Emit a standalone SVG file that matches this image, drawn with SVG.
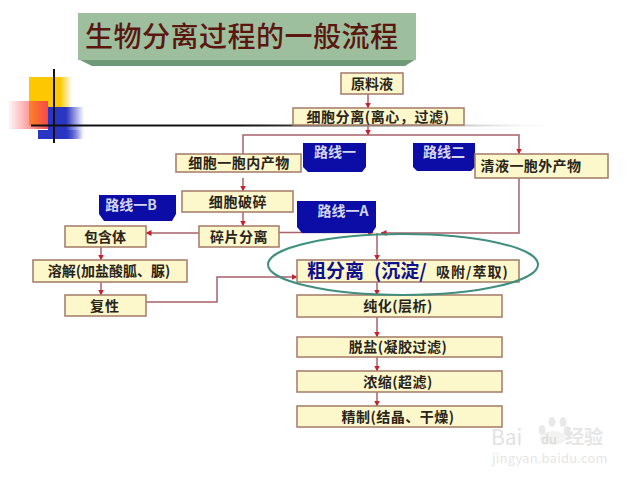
<svg xmlns="http://www.w3.org/2000/svg" width="640" height="480" viewBox="0 0 640 480">
<style>
text{font-family:"Noto Sans CJK SC","Noto Sans",sans-serif;}
.b{fill:#fcf8cc;stroke:#a9816f;stroke-width:1.6;}
.t{font-size:14px;font-weight:700;fill:#2a2418;text-anchor:middle;}
.r{font-size:14px;font-weight:700;fill:#d4d6ee;text-anchor:middle;}
.u{fill:#0c0ca6;}
.c{fill:none;stroke:#a8606a;stroke-width:1.5;}
.w{fill:#e9e9e9;}
</style>
<defs>
<marker id="a" markerWidth="7" markerHeight="7" refX="5.5" refY="3" orient="auto" markerUnits="userSpaceOnUse"><path d="M0 0L6 3L0 6Z" fill="#c8202c"/></marker>
<linearGradient id="fy" x1="0" x2="1" y1="0" y2="0"><stop offset=".72" stop-color="#fdc800"/><stop offset="1" stop-color="#fdc800" stop-opacity="0"/></linearGradient>
<linearGradient id="fb" x1="0" x2="1" y1="0" y2="0"><stop offset=".5" stop-color="#2a35c4"/><stop offset="1" stop-color="#2a35c4" stop-opacity="0"/></linearGradient>
<linearGradient id="fr" x1="1" x2="0" y1="0" y2="0"><stop offset="0" stop-color="#f84848"/><stop offset="1" stop-color="#f84848" stop-opacity=".05"/></linearGradient>
<linearGradient id="fl" x1="0" x2="1" y1="0" y2="0"><stop offset=".4" stop-color="#111"/><stop offset=".7" stop-color="#777"/><stop offset="1" stop-color="#ddd" stop-opacity="0"/></linearGradient>
</defs>

<g id="title">
<path d="M78 59L92 66H405L416 59Z" fill="#6f9a78"/>
<rect x="78" y="13" width="338" height="47" fill="#9dbf9e"/>
<text x="85" y="47" font-size="28" font-weight="500" letter-spacing=".5" fill="#5c1610">生物分离过程的一般流程</text>
</g>

<g id="decor">
<rect x="29" y="77" width="43" height="48" fill="url(#fy)"/>
<rect x="38" y="130" width="44" height="9" fill="url(#fb)"/>
<rect x="48" y="107" width="36" height="32" fill="url(#fb)"/>
<rect x="9" y="101" width="39" height="28" fill="url(#fr)"/>
<rect x="53" y="69" width="2" height="74" fill="#111"/>
<rect x="31" y="124.500" width="520" height="2" fill="url(#fl)"/>
</g>

<g id="connectors">
<path class="c" d="M368 94V108" marker-end="url(#a)"/>
<path class="c" d="M368 125V135" marker-end="url(#a)"/>
<path class="c" d="M243 154V135H519V154" marker-end="url(#a)"/>
<path class="c" d="M243 178V191" marker-end="url(#a)"/>
<path class="c" d="M243 212V226" marker-end="url(#a)"/>
<path class="c" d="M199 233H146" marker-end="url(#a)"/>
<path class="c" d="M101 247V260" marker-end="url(#a)"/>
<path class="c" d="M101 282V295" marker-end="url(#a)"/>
<path class="c" d="M279 232.500H373" marker-end="url(#a)"/>
<path class="c" d="M519 178V233H381" marker-end="url(#a)"/>
<path class="c" d="M377 233V260" marker-end="url(#a)"/>
<path class="c" d="M377 282V295" marker-end="url(#a)"/>
<path class="c" d="M377 317V337" marker-end="url(#a)"/>
<path class="c" d="M377 357V371" marker-end="url(#a)"/>
<path class="c" d="M377 392V406" marker-end="url(#a)"/>
<path class="c" d="M146 302H217V277H297" marker-end="url(#a)"/>
</g>

<g id="n-raw"><rect class="b" x="341" y="73" width="62" height="21"/><text class="t" x="372" y="88.500">原料液</text></g>
<g id="n-cellsep"><rect class="b" x="293" y="108" width="171" height="17"/><text class="t" x="378" y="122" letter-spacing=".6">细胞分离(离心，过滤)</text></g>
<g id="n-intra"><rect class="b" x="176" y="154" width="125" height="18"/><text class="t" x="239" y="168" letter-spacing=".5">细胞一胞内产物</text></g>
<g id="n-route1"><path class="u" d="M303 143H366V167L362 172H308L303 167Z"/><text class="r" x="335" y="157">路线一</text></g>
<g id="n-route2"><path class="u" d="M413 143H475V167L471 171H417L413 167Z"/><text class="r" x="444" y="157">路线二</text></g>
<g id="n-extra"><rect class="b" x="475" y="154" width="133" height="24"/><text class="t" x="531" y="170.500" letter-spacing=".4">清液一胞外产物</text></g>
<g id="n-break"><rect class="b" x="182" y="191" width="111" height="21"/><text class="t" x="238" y="206.500" letter-spacing=".6">细胞破碎</text></g>
<g id="n-route1b"><path class="u" d="M99 195H176V214L172 221H104L99 214Z"/><text class="r" x="131" y="210">路线一B</text></g>
<g id="n-route1a"><path class="u" d="M297 201H376V227L372 233H302L297 227Z"/><text class="r" x="343" y="216">路线一A</text></g>
<g id="n-debris"><rect class="b" x="199" y="226" width="80" height="21"/><text class="t" x="239" y="241.500" letter-spacing=".5">碎片分离</text></g>
<g id="n-inclusion"><rect class="b" x="65" y="226" width="81" height="21"/><text class="t" x="105" y="241.500">包含体</text></g>
<g id="n-dissolve"><rect class="b" x="33" y="260" width="154" height="22"/><text class="t" x="109" y="276">溶解(加盐酸胍、脲)</text></g>
<g id="n-refold"><rect class="b" x="65" y="295" width="81" height="21"/><text class="t" x="105" y="310.500" letter-spacing="1">复性</text></g>
<g id="n-crude"><rect class="b" x="297" y="260" width="222" height="22"/><text y="278" font-size="19" font-weight="700" fill="#10108a"><tspan x="307">粗分离</tspan><tspan x="374">(沉淀/</tspan><tspan x="436" y="277" font-size="14" fill="#2a2418" letter-spacing="1">吸附/萃取)</tspan></text></g>
<g id="n-purify"><rect class="b" x="297" y="295" width="205" height="22"/><text class="t" x="398" y="311" letter-spacing=".5">纯化(层析)</text></g>
<g id="n-desalt"><rect class="b" x="297" y="337" width="205" height="20"/><text class="t" x="398" y="352" letter-spacing=".5">脱盐(凝胶过滤)</text></g>
<g id="n-conc"><rect class="b" x="297" y="371" width="205" height="21"/><text class="t" x="398" y="386.500" letter-spacing=".5">浓缩(超滤)</text></g>
<g id="n-refine"><rect class="b" x="297" y="406" width="205" height="21"/><text class="t" x="398" y="421.500" letter-spacing=".5">精制(结晶、干燥)</text></g>

<ellipse id="ring" cx="403" cy="264.500" rx="135" ry="30.500" fill="none" stroke="#3f8f7e" stroke-width="2"/>

<g id="watermark">
<ellipse class="w" cx="542" cy="430" rx="3.500" ry="5"/>
<ellipse class="w" cx="552" cy="422" rx="3.500" ry="5"/>
<ellipse class="w" cx="563" cy="422" rx="3.500" ry="5"/>
<ellipse class="w" cx="567" cy="431" rx="3.500" ry="5"/>
<ellipse cx="553" cy="438" rx="13" ry="7" fill="#f3f3f3"/>
<text x="491" y="445" font-size="21" font-family="Liberation Sans" fill="#e2e2e2">Bai</text>
<text x="541" y="444" font-size="13" font-family="Liberation Sans" fill="#d8d8d8">du</text>
<text x="565" y="444" font-size="19" font-weight="700" fill="#e6e6e6">经验</text>
<text x="492" y="463" font-size="13" font-family="Liberation Sans" fill="#e6e6e6" letter-spacing=".2">jingyan.baidu.com</text>
</g>
</svg>
